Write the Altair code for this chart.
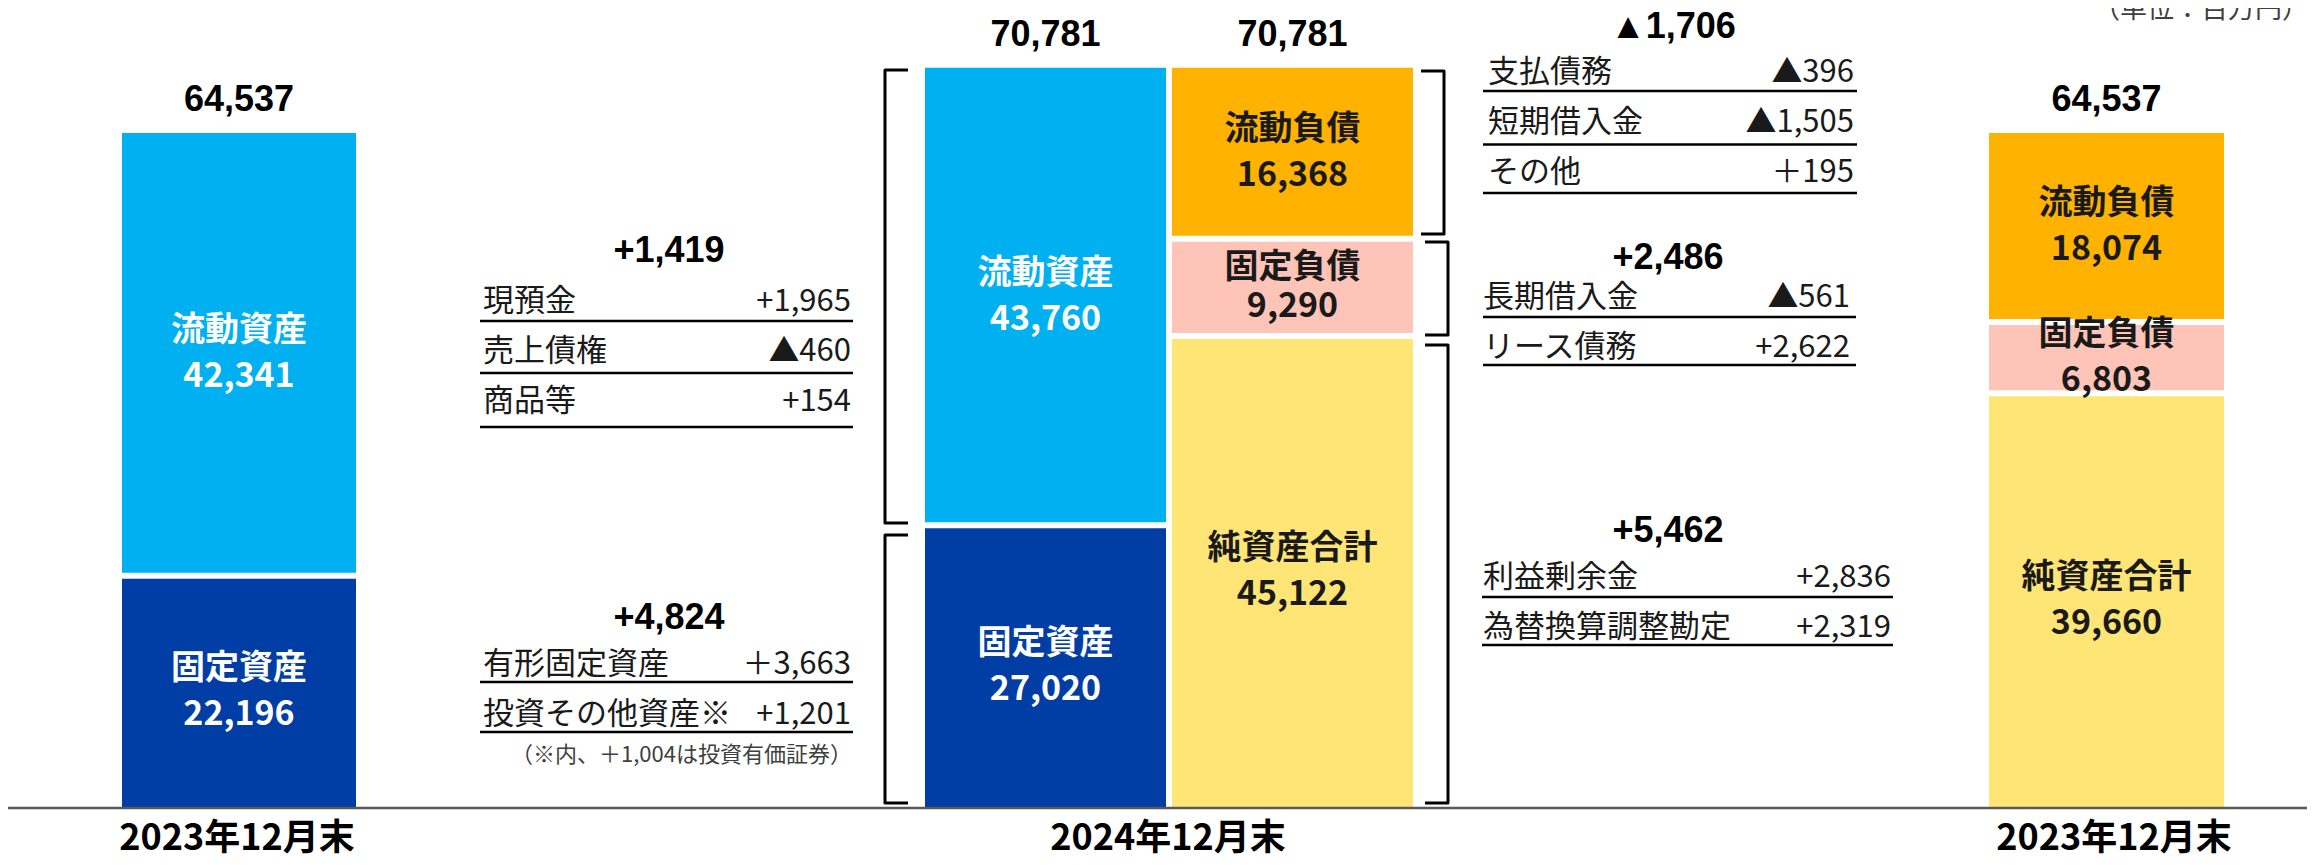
import altair as alt
import pandas as pd

# ---------------- data (millions of yen) ----------------
asset_items = ["流動資産", "固定資産"]
assets_2023 = [42341, 22196]
assets_2024 = [43760, 27020]
liab_items = ["流動負債", "固定負債", "純資産合計"]
liab_2024 = [16368, 9290, 45122]
liab_2023 = [18074, 6803, 39660]
bar_totals = [64537, 70781, 70781, 64537]
period_labels = ["2023年12月末", "2024年12月末", "2023年12月末"]

t1_head = "+1,419"
t1_items = ["現預金", "売上債権", "商品等"]
t1_vals = ["+1,965", "▲460", "+154"]
t2_head = "+4,824"
t2_items = ["有形固定資産", "投資その他資産※"]
t2_vals = ["＋3,663", "+1,201"]
t2_note = "（※内、＋1,004は投資有価証券）"
t3_head = "▲1,706"
t3_items = ["支払債務", "短期借入金", "その他"]
t3_vals = ["▲396", "▲1,505", "＋195"]
t4_head = "+2,486"
t4_items = ["長期借入金", "リース債務"]
t4_vals = ["▲561", "+2,622"]
t5_head = "+5,462"
t5_items = ["利益剰余金", "為替換算調整勘定"]
t5_vals = ["+2,836", "+2,319"]
unit_label = "（単位：百万円）"

# ---------------- style / layout ----------------
FILL = {"流動資産": "#00B0F0", "固定資産": "#003DA5", "流動負債": "#FFB300",
        "固定負債": "#FFC4B8", "純資産合計": "#FFE575"}
TXT = {"流動資産": "white", "固定資産": "white", "流動負債": "#1A1A1A",
       "固定負債": "#1A1A1A", "純資産合計": "#1A1A1A"}
JP = "Noto Sans CJK JP"
LAT = "Liberation Sans"
W, H = 2299, 849
K = 0.01046      # pixels per million yen
BASE = 808       # page y of the zero line
COLS = [(122, 356), (925, 1166), (1172, 1413), (1989, 2224)]
PERIOD_X = [237, 1168, 2114]


def v(p):
    """page pixel y -> value units (for annotation placement)"""
    return (BASE - p) / K


xs = alt.Scale(domain=[8, 8 + W], nice=False, zero=False)
ys = alt.Scale(domain=[(BASE - (8 + H)) / K, (BASE - 8) / K], nice=False, zero=False)


def X(f):
    return alt.X(f, type="quantitative", scale=xs, axis=None)


def Y(f):
    return alt.Y(f, type="quantitative", scale=ys, axis=None)


# ---------------- bars ----------------
stacks = [
    (0, asset_items[::-1], assets_2023[::-1]),
    (1, asset_items[::-1], assets_2024[::-1]),
    (2, liab_items[::-1], liab_2024[::-1]),
    (3, liab_items[::-1], liab_2023[::-1]),
]
seg_rows, sep_rows = [], []
for ci, names, vals in stacks:
    xl, xr = COLS[ci]
    base = 0
    for i, (n, val) in enumerate(zip(names, vals)):
        seg_rows.append(dict(col=ci, name=n, y0=base, y1=base + val, xl=xl, xr=xr,
                             xc=(xl + xr) / 2, mid=base + val / 2, fill=FILL[n],
                             tcol=TXT[n], label=f"{val:,}",
                             compact=(ci == 2 and n == "固定負債")))
        base += val
        if i < len(vals) - 1:
            sep_rows.append(dict(xl=xl - 2, xr=xr + 2, y=base))
seg = pd.DataFrame(seg_rows)
sep = pd.DataFrame(sep_rows)

bars = alt.Chart(seg).mark_rect().encode(
    x=X("xl"), x2=alt.X2("xr"), y=Y("y0"), y2=alt.Y2("y1"),
    color=alt.Color("fill:N", scale=None))
seps = alt.Chart(sep).mark_rule(color="white", strokeWidth=6).encode(
    x=X("xl"), x2=alt.X2("xr"), y=Y("y"))


def seg_text(field, dy, compact):
    return alt.Chart(seg).transform_filter(
        f"datum.compact == {'true' if compact else 'false'}"
    ).mark_text(font=JP, fontSize=34, fontWeight="bold", dy=dy, baseline="middle").encode(
        x=X("xc"), y=Y("mid"), text=f"{field}:N", color=alt.Color("tcol:N", scale=None))


name_txt = seg_text("name", -23, False)
val_txt = seg_text("label", 23, False)
name_txt_c = seg_text("name", -19, True)
val_txt_c = seg_text("label", 20, True)

tot = pd.DataFrame(dict(xc=[(a + b) / 2 for a, b in COLS], y=bar_totals,
                        label=[f"{t:,}" for t in bar_totals]))
tot_txt = alt.Chart(tot).mark_text(font=LAT, fontSize=36, fontWeight="bold",
                                   dy=-33, baseline="middle", color="black").encode(
    x=X("xc"), y=Y("y"), text="label:N")

# zero line
zl = pd.DataFrame(dict(x=[6], x2=[2315], y=[0]))
zero_line = alt.Chart(zl).mark_rule(color="#595959", strokeWidth=2.5).encode(
    x=X("x"), x2=alt.X2("x2"), y=Y("y"))

per = pd.DataFrame(dict(x=PERIOD_X, y=[v(839)] * 3, label=period_labels))
per_txt = alt.Chart(per).mark_text(font=JP, fontSize=36, fontWeight="bold",
                                   baseline="middle", color="black").encode(
    x=X("x"), y=Y("y"), text="label:N")

# ---------------- brackets ----------------
brackets = [  # spine x, tip x, top page y, bottom page y
    (885, 908, 70, 523),
    (885, 908, 535, 803),
    (1444, 1421, 71, 234),
    (1448, 1425, 242, 335),
    (1448, 1425, 345, 803),
]
br_rows = []
for bi, (sx, tx, t, b) in enumerate(brackets):
    for o, (px, py) in enumerate([(tx, t), (sx, t), (sx, b), (tx, b)]):
        br_rows.append(dict(id=bi, o=o, x=px, y=v(py)))
br = alt.Chart(pd.DataFrame(br_rows)).mark_line(color="black", strokeWidth=3,
                                                strokeJoin="round").encode(
    x=X("x"), y=Y("y"), detail="id:N", order="o:Q")

# ---------------- change tables ----------------
tables = [
    (t1_head, t1_items, t1_vals, (669, 251), (483, 851), (480, 853), [302, 352, 401.5], [321, 373, 427]),
    (t2_head, t2_items, t2_vals, (669, 618), (483, 851), (480, 853), [665, 715], [682, 732]),
    (t3_head, t3_items, t3_vals, (1673, 27), (1488, 1854), (1483, 1857), [73, 122.5, 172.5], [91, 144.5, 193]),
    (t4_head, t4_items, t4_vals, (1668, 258), (1483, 1850), (1483, 1856), [298, 347.5], [317, 365]),
    (t5_head, t5_items, t5_vals, (1668, 531), (1483, 1891), (1482, 1893), [578, 628], [597, 645]),
]
head_rows, row_rows, ul_rows = [], [], []
for head, items, vals, (hx, hy), (lx, rx), (ux1, ux2), rys, uys in tables:
    head_rows.append(dict(x=hx, y=v(hy), label=head))
    for it, va, ry, uy in zip(items, vals, rys, uys):
        row_rows.append(dict(xl=lx, xr=rx, y=v(ry), item=it, val=va))
        ul_rows.append(dict(x=ux1, x2=ux2, y=v(uy)))
hd = pd.DataFrame(head_rows)
rw = pd.DataFrame(row_rows)
ul = pd.DataFrame(ul_rows)

head_txt = alt.Chart(hd).mark_text(font=LAT, fontSize=36, fontWeight="bold",
                                   baseline="middle", color="black").encode(
    x=X("x"), y=Y("y"), text="label:N")
item_txt = alt.Chart(rw).mark_text(font=JP, fontSize=31, align="left",
                                   baseline="middle", color="#1A1A1A").encode(
    x=X("xl"), y=Y("y"), text="item:N")
valr_txt = alt.Chart(rw).mark_text(font=JP, fontSize=31, align="right",
                                   baseline="middle", color="#1A1A1A").encode(
    x=X("xr"), y=Y("y"), text="val:N")
ul_line = alt.Chart(ul).mark_rule(color="black", strokeWidth=2.5).encode(
    x=X("x"), x2=alt.X2("x2"), y=Y("y"))

note = pd.DataFrame(dict(x=[852, 2309], y=[v(755), v(10)], label=[t2_note, unit_label],
                         size=[22, 27]))
note_txt = alt.Chart(note).mark_text(font=JP, align="right", baseline="middle",
                                     color="#404040").encode(
    x=X("x"), y=Y("y"), text="label:N", size=alt.Size("size:Q", scale=None))

chart = alt.layer(
    bars, seps, zero_line, name_txt, val_txt, name_txt_c, val_txt_c, tot_txt, per_txt,
    br, ul_line, head_txt, item_txt, valr_txt, note_txt
).properties(
    width=W, height=H, padding=0, autosize=alt.AutoSizeParams(type="none")
).configure_view(stroke=None)

chart.save("out.html", embed_options={"renderer": "svg", "actions": False})
